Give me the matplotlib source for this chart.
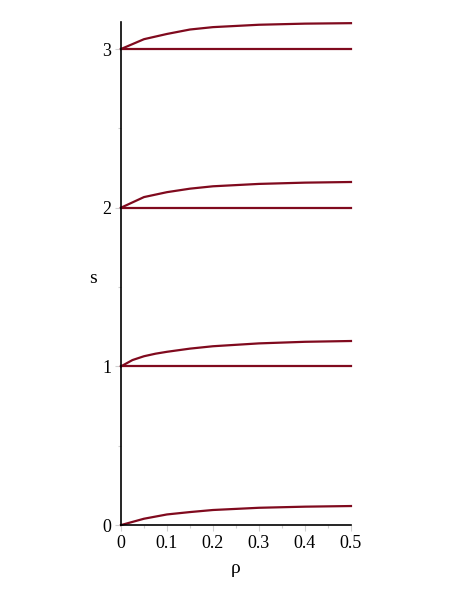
import numpy as np
import matplotlib.pyplot as plt
from matplotlib.ticker import MultipleLocator

# rho samples and the four curves
rho = [0.0, 0.05, 0.1, 0.15, 0.2, 0.3, 0.4, 0.5]
s0 = [0.0, 0.040, 0.067, 0.082, 0.095, 0.109, 0.116, 0.120]
s3 = [3.0, 3.062, 3.095, 3.123, 3.138, 3.153, 3.160, 3.163]
s2 = [2.0, 2.067, 2.098, 2.120, 2.135, 2.150, 2.158, 2.162]
# the curve from s=1 is sampled finer (it looks smoother)
rho1 = [0.0, 0.025, 0.05, 0.075, 0.1, 0.15, 0.2, 0.3, 0.4, 0.5]
s1 = [1.0, 1.040, 1.064, 1.080, 1.092, 1.112, 1.127, 1.145, 1.155, 1.160]
flat_levels = [1, 2, 3]

color = "#800a1e"
plt.rcParams["font.family"] = ["Liberation Serif", "DejaVu Serif"]

fig = plt.figure(figsize=(4.6, 5.96), dpi=100)
ax = fig.add_axes([0.263, 0.119, 0.5, 0.844])

for x, curve in [(rho, s0), (rho1, s1), (rho, s2), (rho, s3)]:
    ax.plot(x, curve, color=color, lw=1.6, clip_on=False)
for lev in flat_levels:
    ax.plot([rho[0], rho[-1]], [lev, lev], color=color, lw=1.6, clip_on=False)

ax.set_xlim(0, 0.5)
ax.set_ylim(0, 3.17)
ax.xaxis.set_minor_locator(MultipleLocator(0.05))
ax.yaxis.set_minor_locator(MultipleLocator(0.5))
ax.set_xticks([0, 0.1, 0.2, 0.3, 0.4, 0.5])
ax.set_xticklabels(["0", "0.1", "0.2", "0.3", "0.4", "0.5"])
ax.set_yticks([0, 1, 2, 3])
ax.set_yticklabels(["0", "1", "2", "3"])

for sp in ["top", "right"]:
    ax.spines[sp].set_visible(False)
ax.spines["left"].set_linewidth(1.2)
ax.spines["bottom"].set_linewidth(1.2)
ax.tick_params(which="both", color="#d0d0d0", width=0.8, labelsize=13)
ax.tick_params(which="major", length=4, pad=3)
ax.tick_params(which="minor", length=2)

ax.set_xlabel("ρ", fontsize=14, labelpad=6)
ax.set_ylabel("s", fontsize=14, rotation=0, va="center", ha="center")
ax.yaxis.set_label_coords(-0.12, 0.49)

fig.savefig("out.png", dpi=100)
